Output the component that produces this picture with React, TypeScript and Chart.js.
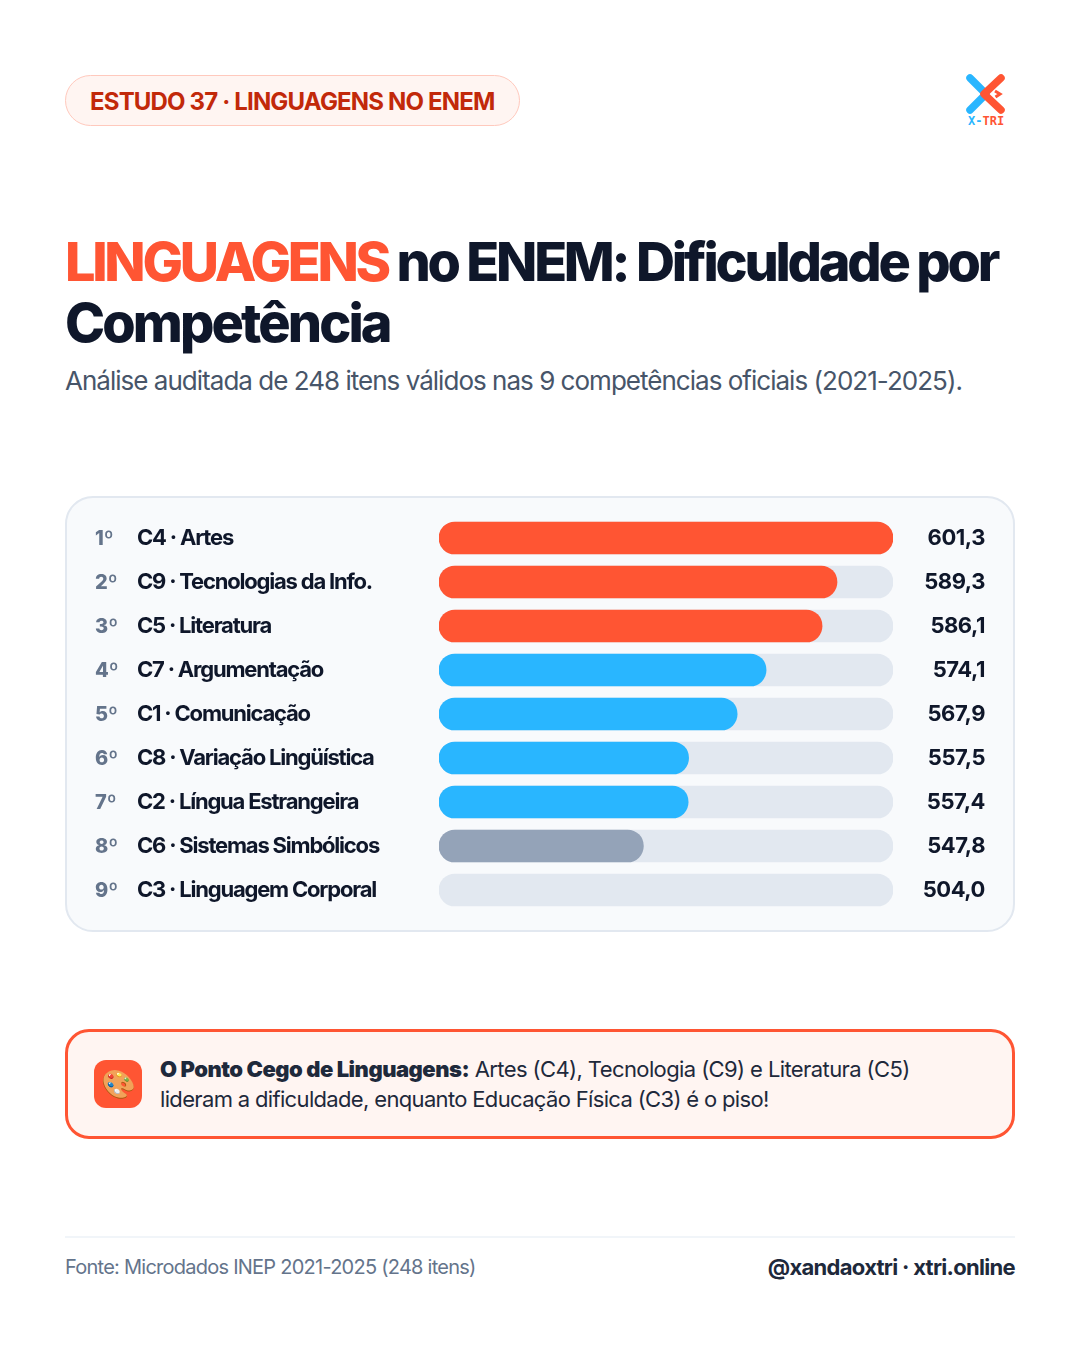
import { useEffect, useRef } from "react"
import { Chart, registerables } from "chart.js"

Chart.register(...registerables)

const ranks = ["1º", "2º", "3º", "4º", "5º", "6º", "7º", "8º", "9º"]
const categories = [
  "C4 · Artes",
  "C9 · Tecnologias da Info.",
  "C5 · Literatura",
  "C7 · Argumentação",
  "C1 · Comunicação",
  "C8 · Variação Lingüística",
  "C2 · Língua Estrangeira",
  "C6 · Sistemas Simbólicos",
  "C3 · Linguagem Corporal",
]
const values = [601.3, 589.3, 586.1, 574.1, 567.9, 557.5, 557.4, 547.8, 504.0]
const tiers = ["high", "high", "high", "mid", "mid", "mid", "mid", "low", "floor"]

const tierColors: Record<string, string> = {
  high: "#ff5533",
  mid: "#29b6ff",
  low: "#94a3b8",
  floor: "transparent",
}

const FONT = "Inter, sans-serif"
const AXIS_MIN = 504
const AXIS_MAX = 601.3

// ranks on the left and values on the right, lined up with the category scale
const rowText = {
  id: "rowText",
  beforeDraw(chart: any) {
    chart.ctx.letterSpacing = "-1.2px"
  },
  afterDraw(chart: any) {
    const { ctx, scales } = chart
    ctx.save()
    ctx.textBaseline = "middle"
    categories.forEach((_, i) => {
      const y = scales.y.getPixelForTick(i)
      ctx.letterSpacing = "0px"
      ctx.textAlign = "left"
      ctx.fillStyle = "#64748b"
      ctx.font = `800 20px ${FONT}`
      ctx.fillText(ranks[i], 30, y + 1)
      ctx.letterSpacing = "-0.45px"
      ctx.textAlign = "right"
      ctx.fillStyle = "#0f172a"
      ctx.font = `700 22px ${FONT}`
      ctx.fillText(values[i].toFixed(1).replace(".", ","), 920, y)
    })
    ctx.restore()
  },
}

function DifficultyChart() {
  const chartRef = useRef<HTMLCanvasElement>(null)

  useEffect(() => {
    if (!chartRef.current) return
    const chart = new Chart(chartRef.current, {
      type: "bar",
      data: {
        labels: categories,
        datasets: [
          {
            data: values,
            backgroundColor: tiers.map((t) => tierColors[t]),
            base: AXIS_MIN,
            barThickness: 32,
            borderRadius: 16,
            borderSkipped: false,
            grouped: false,
          },
          {
            data: categories.map(() => AXIS_MAX),
            backgroundColor: "#e2e8f0",
            base: AXIS_MIN,
            barThickness: 32,
            borderRadius: 16,
            borderSkipped: false,
            grouped: false,
          },
        ],
      } as any,
      options: {
        indexAxis: "y",
        animation: false,
        responsive: false,
        layout: { padding: { left: 72, right: 122, top: 19, bottom: 19 } },
        plugins: { legend: { display: false }, tooltip: { enabled: false } },
        scales: {
          x: { display: false, min: AXIS_MIN, max: AXIS_MAX },
          y: {
            grid: { display: false },
            border: { display: false },
            afterFit(scale: any) {
              scale.width = 302
            },
            ticks: {
              crossAlign: "far",
              color: "#0f172a",
              font: { family: FONT, size: 22, weight: "700" },
            },
          },
        },
      } as any,
      plugins: [rowText],
    })
    return () => chart.destroy()
  }, [])

  return <canvas ref={chartRef} width={950} height={434} style={{ position: "absolute", left: 0, top: 0 }} />
}

function Logo() {
  return (
    <svg width="44" height="56" viewBox="0 0 44 56" style={{ position: "absolute", left: 964, top: 72 }}>
      <path d="M6 6 L22 22 L6 38" fill="none" stroke="#29b6ff" strokeWidth="7.5" strokeLinecap="round" strokeLinejoin="round" />
      <path d="M37 6 L20 22 L37 38" fill="none" stroke="#ff5533" strokeWidth="7.5" strokeLinecap="round" strokeLinejoin="round" />
      <path d="M31 19 L36 22 L31.5 25" fill="none" stroke="#ff5533" strokeWidth="3" />
      <text x="4" y="53" fontFamily="DejaVu Sans Mono, monospace" fontWeight="700" fontSize="12" fill="#ff5533">
        <tspan fill="#29b6ff">X-</tspan>TRI
      </text>
    </svg>
  )
}

export default function App() {
  const box: React.CSSProperties = { position: "absolute", whiteSpace: "nowrap" }
  return (
    <div style={{ position: "absolute", left: 0, top: 0, width: 1080, height: 1350, background: "#ffffff", fontFamily: FONT, overflow: "hidden" }}>
      <div
        style={{
          ...box,
          left: 65,
          top: 75,
          width: 455,
          height: 51,
          boxSizing: "border-box",
          borderRadius: 26,
          background: "#fff5f2",
          border: "1px solid #ffc9bd",
          color: "#c2290a",
          fontSize: 24,
          fontWeight: 700,
          letterSpacing: -0.83,
          lineHeight: "51px",
          paddingLeft: 24,
        }}
      >
        ESTUDO 37 · LINGUAGENS NO ENEM
      </div>
      <Logo />

      <div style={{ ...box, left: 65, top: 231, fontSize: 54, fontWeight: 800, letterSpacing: -3.22, lineHeight: "61px", color: "#0f172a" }}>
        <span style={{ color: "#ff5533", letterSpacing: -3.3 }}>LINGUAGENS</span> no ENEM: Dificuldade por
        <br />
        <span style={{ letterSpacing: -2.9 }}>Competência</span>
      </div>
      <div style={{ ...box, left: 65, top: 364, fontSize: 26, fontWeight: 400, letterSpacing: -0.98, lineHeight: "34px", color: "#475569" }}>
        Análise auditada de 248 itens válidos nas 9 competências oficiais (2021-2025).
      </div>

      <div style={{ position: "absolute", left: 65, top: 496, width: 950, height: 436, boxSizing: "border-box", background: "#f8fafc", border: "2px solid #e2e8f0", borderRadius: 28 }} />
      <div style={{ position: "absolute", left: 65, top: 497, width: 950, height: 434 }}>
        <DifficultyChart />
      </div>

      <div style={{ position: "absolute", left: 65, top: 1029, width: 950, height: 110, boxSizing: "border-box", background: "#fff5f2", border: "3px solid #ff5533", borderRadius: 24 }} />
      <div style={{ position: "absolute", left: 94, top: 1060, width: 48, height: 48, borderRadius: 12, background: "#ff5533", fontSize: 28, lineHeight: "48px", textAlign: "center" }}>🎨</div>
      <div style={{ ...box, left: 160, top: 1054, fontSize: 22, lineHeight: "30px", letterSpacing: -0.6, color: "#1e293b" }}>
        <b style={{ fontWeight: 900, letterSpacing: -0.49 }}>O Ponto Cego de Linguagens:</b> Artes (C4), Tecnologia (C9) e Literatura (C5)
        <br />
        <span style={{ letterSpacing: -0.66 }}>lideram a dificuldade, enquanto Educação Física (C3) é o piso!</span>
      </div>

      <div style={{ position: "absolute", left: 65, top: 1236, width: 950, height: 2, background: "#f1f5f9" }} />
      <div style={{ ...box, left: 65, top: 1254, fontSize: 20, lineHeight: "26px", letterSpacing: -0.75, color: "#64748b" }}>Fonte: Microdados INEP 2021-2025 (248 itens)</div>
      <div style={{ ...box, right: 65, top: 1252, fontSize: 22, fontWeight: 700, lineHeight: "30px", letterSpacing: -0.7, color: "#1e293b" }}>@xandaoxtri · xtri.online</div>
    </div>
  )
}
